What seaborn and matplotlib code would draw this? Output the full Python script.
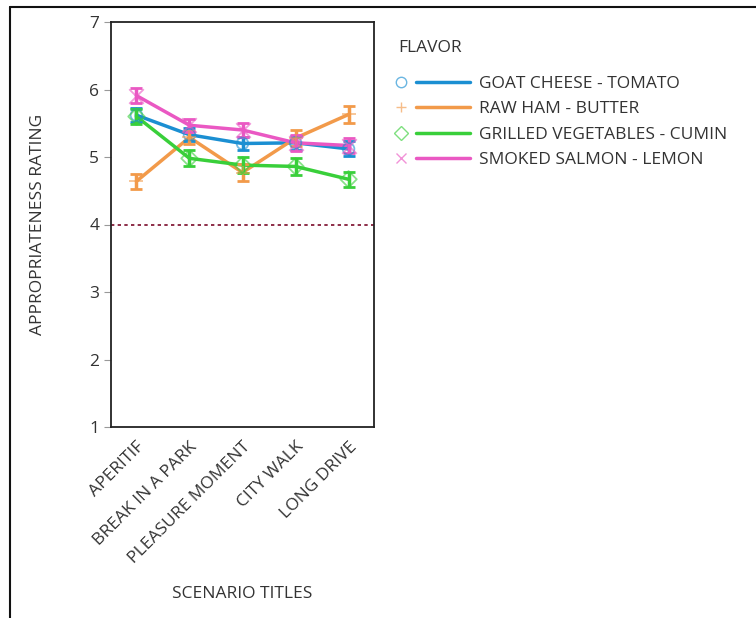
import numpy as np
import pandas as pd
import matplotlib.pyplot as plt
import seaborn as sns
from matplotlib.lines import Line2D
from matplotlib.legend_handler import HandlerBase

# -----------------------------
# DATA
# -----------------------------
scenarios = ["APERITIF", "BREAK IN A PARK", "PLEASURE MOMENT", "CITY WALK", "LONG DRIVE"]
flavors = ["GOAT CHEESE - TOMATO", "RAW HAM - BUTTER",
           "GRILLED VEGETABLES - CUMIN", "SMOKED SALMON - LEMON"]

goat_mean = [5.62, 5.33, 5.20, 5.21, 5.12]
ham_mean = [4.64, 5.29, 4.77, 5.28, 5.63]
veg_mean = [5.60, 4.98, 4.88, 4.86, 4.67]
salmon_mean = [5.91, 5.47, 5.40, 5.21, 5.17]

goat_err = [0.10, 0.10, 0.10, 0.10, 0.11]
ham_err = [0.11, 0.10, 0.13, 0.12, 0.13]
veg_err = [0.11, 0.12, 0.12, 0.12, 0.11]
salmon_err = [0.11, 0.10, 0.10, 0.12, 0.11]

means = [goat_mean, ham_mean, veg_mean, salmon_mean]
errs = [goat_err, ham_err, veg_err, salmon_err]

colors = ["#1b8fd2", "#f29a4a", "#39cf3a", "#ea58c3"]
markers = ["o", "+", "D", "x"]

df = pd.DataFrame({
    "scenario": np.tile(scenarios, len(flavors)),
    "flavor": np.repeat(flavors, len(scenarios)),
    "rating": np.concatenate(means),
    "err": np.concatenate(errs),
})


# legend key: hollow/light marker on the left, line on the right
class FlavorKey:
    def __init__(self, marker, color):
        self.marker = marker
        self.color = color


class FlavorKeyHandler(HandlerBase):
    def create_artists(self, legend, orig_handle, xdescent, ydescent,
                       width, height, fontsize, trans):
        y = height / 2 - ydescent
        x0 = -xdescent
        mfc = "none" if orig_handle.marker in ("o", "D") else orig_handle.color
        m = Line2D([x0 + 4], [y], marker=orig_handle.marker, linestyle="none",
                   color=orig_handle.color, markerfacecolor=mfc,
                   markersize=7.5, markeredgewidth=1.0, alpha=0.65)
        ln = Line2D([x0 + 15, x0 + width], [y, y], color=orig_handle.color,
                    linewidth=2.5)
        m.set_transform(trans)
        ln.set_transform(trans)
        return [m, ln]


# -----------------------------
# PLOT
# -----------------------------
sns.set_style("white")
plt.rcParams["font.family"] = ["Open Sans", "DejaVu Sans"]
fs = 12.5
txt = "#333333"

fig = plt.figure(figsize=(7.56, 6.18), dpi=100)
ax = fig.add_axes([111 / 756, 1 - 427 / 618, 263 / 756, 405 / 618])

palette = dict(zip(flavors, colors))

sns.lineplot(data=df, x="scenario", y="rating", hue="flavor",
             palette=palette, linewidth=2.5, ax=ax, legend=False, sort=False)

for i, fl in enumerate(flavors):
    sub = df[df["flavor"] == fl]
    ax.errorbar(sub["scenario"], sub["rating"], yerr=sub["err"], fmt="none",
                ecolor=colors[i], elinewidth=2.5, capsize=4, capthick=2)
    mfc = "none" if markers[i] in ("o", "D") else colors[i]
    ax.scatter(sub["scenario"], sub["rating"], marker=markers[i],
               s=110 if markers[i] in ("+", "x") else 70,
               facecolors=mfc, edgecolors=colors[i], linewidths=1.3,
               alpha=0.6, zorder=5)

ax.axhline(4, color="#7a0a2a", linestyle=(0, (2, 2)), linewidth=1.2)

ax.set_xlim(-0.48, 4.48)
ax.set_ylim(1, 7)
ax.set_yticks(range(1, 8))
ax.set_xlabel("SCENARIO TITLES", fontsize=fs, color=txt, labelpad=14)
ax.set_ylabel("APPROPRIATENESS RATING", fontsize=fs, color=txt, labelpad=31)
ax.tick_params(axis="both", length=5, width=0.8, color="#999999",
               labelsize=fs, labelcolor=txt, left=True, bottom=False)
plt.setp(ax.get_xticklabels(), rotation=45, ha="right", rotation_mode="anchor")
for s in ax.spines.values():
    s.set_color("#222222")
    s.set_linewidth(1.3)

# legend
fig.text(398 / 756, 1 - 48 / 618, "FLAVOR", fontsize=fs, color=txt,
         ha="left", va="center")
keys = [FlavorKey(markers[i], colors[i]) for i in range(len(flavors))]
leg = fig.legend(keys, flavors, frameon=False,
                 loc="upper left", bbox_to_anchor=(380 / 756, 1 - 60 / 618),
                 fontsize=fs, handler_map={FlavorKey: FlavorKeyHandler()},
                 handlelength=4.3, handletextpad=0.5, labelspacing=0.54)
for t in leg.get_texts():
    t.set_color(txt)

# outer border (left and top only)
fig.add_artist(Line2D([10 / 756, 10 / 756], [0, 1 - 7 / 618], color="#111111", linewidth=1.5))
fig.add_artist(Line2D([10 / 756, 1], [1 - 7 / 618, 1 - 7 / 618], color="#111111", linewidth=1.5))

fig.savefig("out.png", dpi=100)
